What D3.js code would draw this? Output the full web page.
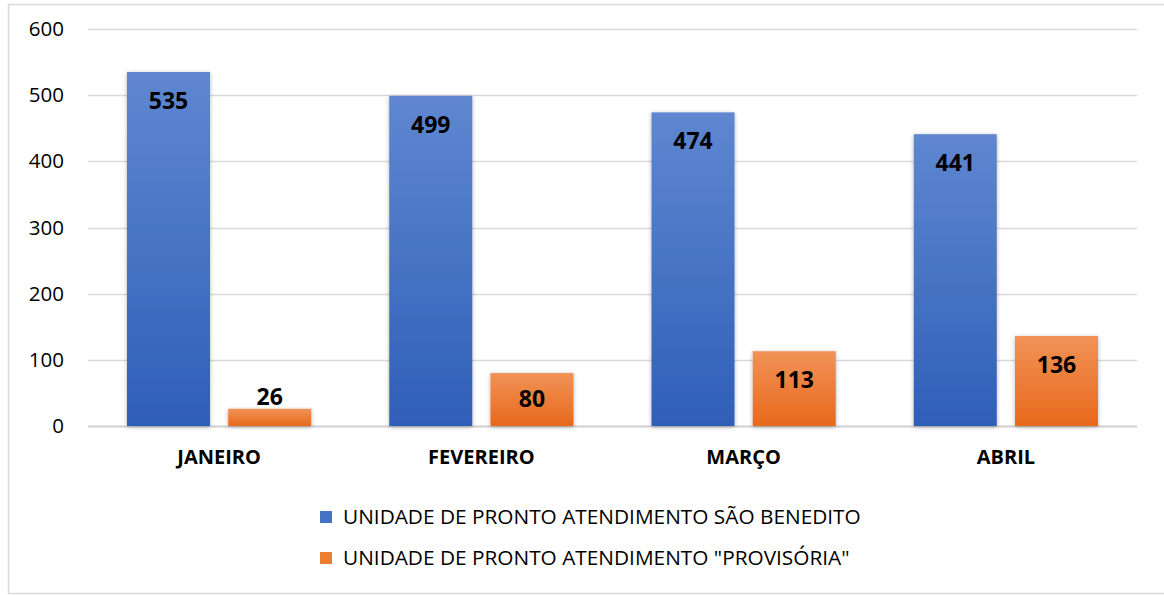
<!DOCTYPE html>
<html lang="pt">
<head>
<meta charset="utf-8">
<title>Atendimentos</title>
<script src="https://cdn.jsdelivr.net/npm/d3@7"></script>
<style>
  body { margin: 0; background: #fff; }
  text { font-family: "Open Sans", "Liberation Sans", sans-serif; }
</style>
</head>
<body>
<script>
// data
var months = ["JANEIRO", "FEVEREIRO", "MARÇO", "ABRIL"];
var seriesNames = ["UNIDADE DE PRONTO ATENDIMENTO SÃO BENEDITO", "UNIDADE DE PRONTO ATENDIMENTO \"PROVISÓRIA\""];
var saoBenedito = [535, 499, 474, 441];
var provisoria = [26, 80, 113, 136];
var yTicks = [0, 100, 200, 300, 400, 500, 600];

var w = 1164, h = 595;
var plotLeft = 88, plotRight = 1137, plotTop = 29, plotBottom = 426;

var svg = d3.select("body").append("svg")
    .attr("width", w)
    .attr("height", h);

// outer chart border
svg.append("rect")
    .attr("x", 8.5).attr("y", 4.5)
    .attr("width", 1170).attr("height", 589)
    .attr("fill", "#fff")
    .attr("stroke", "#d9d9d9")
    .attr("stroke-width", 1.5);

var defs = svg.append("defs");
var gBlue = defs.append("linearGradient").attr("id", "gBlue")
    .attr("x1", 0).attr("y1", 0).attr("x2", 0).attr("y2", 1);
gBlue.append("stop").attr("offset", "0%").attr("stop-color", "#5f87d0");
gBlue.append("stop").attr("offset", "100%").attr("stop-color", "#2f5fb8");
var gOrange = defs.append("linearGradient").attr("id", "gOrange")
    .attr("x1", 0).attr("y1", 0).attr("x2", 0).attr("y2", 1);
gOrange.append("stop").attr("offset", "0%").attr("stop-color", "#f19257");
gOrange.append("stop").attr("offset", "100%").attr("stop-color", "#e8691c");

var shadow = defs.append("filter").attr("id", "shadow")
    .attr("x", "-20%").attr("y", "-10%").attr("width", "140%").attr("height", "130%");
shadow.append("feDropShadow")
    .attr("dx", 0).attr("dy", 1).attr("stdDeviation", 2)
    .attr("flood-color", "#000").attr("flood-opacity", 0.3);

var y = d3.scaleLinear().domain([0, 600]).range([plotBottom, plotTop]);
var x0 = d3.scaleBand().domain(months).range([plotLeft, plotRight]).paddingInner(0).paddingOuter(0);
var x1 = d3.scaleBand().domain([0, 1]).range([39, x0.bandwidth() - 39]).paddingInner(0.18);

// gridlines
svg.append("g").selectAll("line")
    .data(yTicks)
    .enter()
    .append("line")
    .attr("x1", plotLeft).attr("x2", plotRight)
    .attr("y1", function(d) { return Math.round(y(d)) + 0.5; })
    .attr("y2", function(d) { return Math.round(y(d)) + 0.5; })
    .attr("stroke", function(d) { return d === 0 ? "#d0d0d0" : "#d9d9d9"; })
    .attr("stroke-width", function(d) { return d === 0 ? 2 : 1.5; });

// y tick labels
svg.append("g").selectAll("text")
    .data(yTicks)
    .enter()
    .append("text")
    .text(function(d) { return d; })
    .attr("x", 64)
    .attr("y", function(d) { return y(d) + 7; })
    .attr("text-anchor", "end")
    .attr("font-size", 20.5)
    .attr("fill", "#000");

var series = [
    { name: seriesNames[0], values: saoBenedito, fill: "url(#gBlue)", swatch: "#4472c4" },
    { name: seriesNames[1], values: provisoria, fill: "url(#gOrange)", swatch: "#ed7d31" }
];

series.forEach(function(s, si) {
    var g = svg.append("g");
    g.selectAll("rect")
        .data(s.values)
        .enter()
        .append("rect")
        .attr("x", function(d, i) { return x0(months[i]) + x1(si); })
        .attr("y", function(d) { return y(d); })
        .attr("width", x1.bandwidth())
        .attr("height", function(d) { return plotBottom - y(d); })
        .attr("fill", s.fill)
        .attr("filter", "url(#shadow)");

    g.selectAll("text")
        .data(s.values)
        .enter()
        .append("text")
        .text(function(d) { return d; })
        .attr("x", function(d, i) { return x0(months[i]) + x1(si) + x1.bandwidth() / 2; })
        .attr("y", function(d) {
            var barH = plotBottom - y(d);
            if (barH >= 60) return y(d) + 37;
            if (barH >= 35) return y(d) + barH / 2 + 7;
            return y(d) - 4;
        })
        .attr("text-anchor", "middle")
        .attr("font-size", 23)
        .attr("font-weight", "bold")
        .attr("fill", "#000");
});

// category labels
svg.append("g").selectAll("text")
    .data(months)
    .enter()
    .append("text")
    .text(function(d) { return d; })
    .attr("x", function(d) { return x0(d) + x0.bandwidth() / 2; })
    .attr("y", 464)
    .attr("text-anchor", "middle")
    .attr("font-size", 20)
    .attr("font-weight", "bold")
    .attr("fill", "#000");

// legend
var legend = svg.append("g").selectAll("g")
    .data(series)
    .enter()
    .append("g")
    .attr("transform", function(d, i) { return "translate(320," + (511 + i * 41) + ")"; });
legend.append("rect")
    .attr("width", 12).attr("height", 12)
    .attr("fill", function(d) { return d.swatch; });
legend.append("text")
    .text(function(d) { return d.name; })
    .attr("x", 23)
    .attr("y", 13)
    .attr("font-size", 20.8)
    .attr("fill", "#000");
</script>
</body>
</html>
